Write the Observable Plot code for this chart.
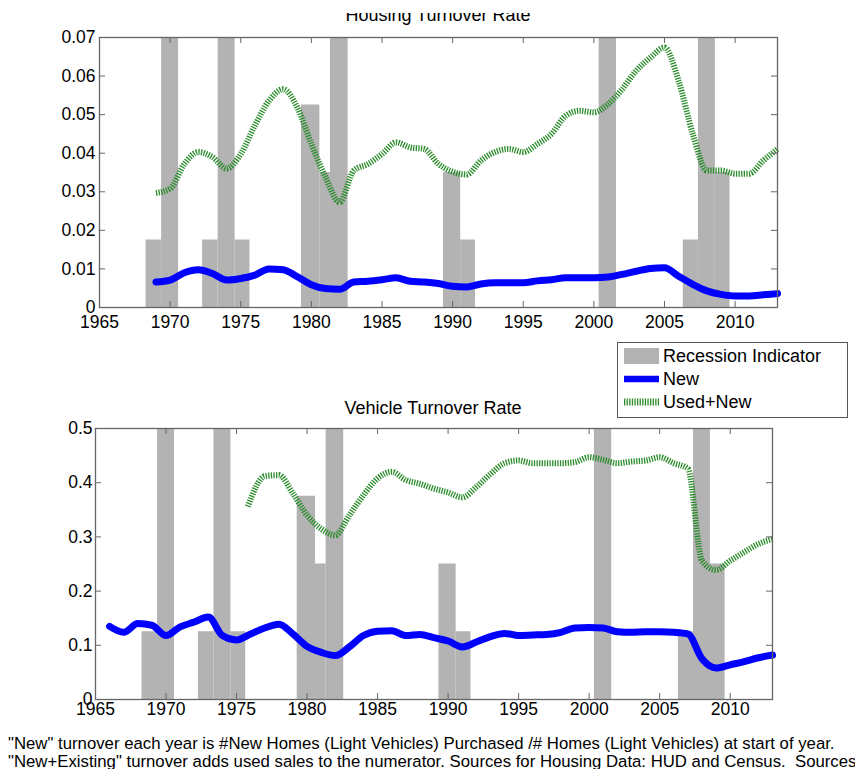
<!DOCTYPE html>
<html>
<head>
<meta charset="utf-8">
<script src="https://cdn.jsdelivr.net/npm/d3@7"></script>
<script src="https://cdn.jsdelivr.net/npm/@observablehq/plot@0.6"></script>
<style>
  html, body { margin: 0; padding: 0; background: #fff; }
  #root { position: relative; width: 855px; height: 769px; overflow: hidden; font-family: "Liberation Sans", Arial, sans-serif; color: #000; }
  .abs { position: absolute; }
  .title { font-size: 18px; text-align: center; white-space: nowrap; }
  .legend { border: 1px solid #555; background: #fff; font-size: 18px; }
  .legend .row { position: absolute; left: 6px; height: 20px; display: flex; align-items: center; }
  .legend .row span { margin-left: 4px; }
  .caption { font-family: "Liberation Sans", Arial, sans-serif; font-size: 16.75px; white-space: pre; line-height: 17.5px; }
</style>
</head>
<body>
<div id="root"></div>
<script>
// ---------- DATA ----------
// Recession indicator (fraction of year in recession), drawn as stepped bars
const recStart = [1968.3, 1969.4, 1972.3, 1973.4, 1974.6, 1979.3, 1980.6, 1981.35, 1989.35, 1990.57, 2000.37, 2006.33, 2007.4, 2008.6];
const recEnd   = [1969.4, 1970.6, 1973.4, 1974.6, 1975.65, 1980.6, 1981.35, 1982.6, 1990.57, 1991.62, 2001.6, 2007.4, 2008.6, 2009.64];
const recFrac  = [0.25, 1, 0.25, 1, 0.25, 0.75, 0.5, 1, 0.5, 0.25, 1, 0.25, 1, 0.5];

// Housing turnover
const housingYears = [1969,1970,1971,1972,1973,1974,1975,1976,1977,1978,1979,1980,1981,1982,1983,1984,1985,1986,1987,1988,1989,1990,1991,1992,1993,1994,1995,1996,1997,1998,1999,2000,2001,2002,2003,2004,2005,2006,2007,2008,2009,2010,2011,2012,2013];
const housingNew = [0.0066,0.0071,0.0090,0.0098,0.0088,0.0071,0.0075,0.0084,0.0100,0.0098,0.0080,0.0059,0.0049,0.0047,0.0066,0.0068,0.0072,0.0077,0.0068,0.0066,0.0062,0.0055,0.0053,0.0061,0.0064,0.0064,0.0064,0.0069,0.0072,0.0077,0.0077,0.0077,0.0079,0.0086,0.0094,0.0101,0.0103,0.0081,0.0060,0.0043,0.0034,0.0030,0.0030,0.0033,0.0036];
const housingUsedNew = [0.0297,0.0308,0.0372,0.0403,0.0390,0.0360,0.0398,0.0472,0.0536,0.0566,0.0519,0.0424,0.0338,0.0273,0.0355,0.0372,0.0398,0.0428,0.0415,0.0411,0.0372,0.0352,0.0345,0.0381,0.0403,0.0411,0.0403,0.0424,0.0450,0.0497,0.0510,0.0506,0.0527,0.0566,0.0614,0.0648,0.0674,0.0588,0.0450,0.0355,0.0355,0.0347,0.0347,0.0381,0.0411];

// Vehicle turnover
const vehicleYears = [1966,1967,1968,1969,1970,1971,1972,1973,1974,1975,1976,1977,1978,1979,1980,1981,1982,1983,1984,1985,1986,1987,1988,1989,1990,1991,1992,1993,1994,1995,1996,1997,1998,1999,2000,2001,2002,2003,2004,2005,2006,2007,2008,2009,2010,2011,2012,2013];
const vehicleNew = [0.135,0.124,0.140,0.137,0.118,0.134,0.143,0.152,0.118,0.110,0.121,0.132,0.139,0.121,0.098,0.087,0.081,0.097,0.118,0.126,0.127,0.118,0.120,0.114,0.108,0.097,0.106,0.116,0.122,0.118,0.119,0.120,0.124,0.132,0.133,0.132,0.125,0.124,0.125,0.125,0.124,0.121,0.075,0.058,0.064,0.070,0.077,0.082];
const vehicleUsedYears = [1975.8,1977,1978,1979,1980,1981,1982,1983,1984,1985,1986,1987,1988,1989,1990,1991,1992,1993,1994,1995,1996,1997,1998,1999,2000,2001,2002,2003,2004,2005,2006,2007,2008,2009,2010,2011,2012,2013];
const vehicleUsedNew = [0.356,0.412,0.414,0.380,0.340,0.315,0.303,0.340,0.377,0.408,0.420,0.405,0.398,0.389,0.382,0.373,0.392,0.416,0.436,0.441,0.436,0.436,0.436,0.438,0.447,0.442,0.436,0.439,0.441,0.447,0.436,0.426,0.256,0.239,0.256,0.272,0.287,0.296];

const xTicks = [1965,1970,1975,1980,1985,1990,1995,2000,2005,2010];
const housingYTicks = [0,0.01,0.02,0.03,0.04,0.05,0.06,0.07];
const vehicleYTicks = [0,0.1,0.2,0.3,0.4,0.5];

const titles = ["Housing Turnover Rate", "Vehicle Turnover Rate"];
const legendLabels = ["Recession Indicator", "New", "Used+New"];
const captionLines = [
  "\"New\" turnover each year is #New Homes (Light Vehicles) Purchased /# Homes (Light Vehicles) at start of year.",
  "\"New+Existing\" turnover adds used sales to the numerator. Sources for Housing Data: HUD and Census.  Sources"
];

// ---------- STYLE ----------
const BLUE = "#0000ff";
const GREEN = "#2a8c2a";
const GREY = "#b3b3b3";
const FRAME = "#666";
const DASH = "1.3,1.3";

const rec = recStart.map((s, i) => ({x1: s, x2: recEnd[i], frac: recFrac[i]}));
const zipLine = (xs, ys) => xs.map((x, i) => ({x, y: ys[i]}));

function chart({width, height, mL, mR, mT, mB, yMax, yTicks, yFmt, xPad, yPad, newData, usedData}) {
  const W = width - mL - mR, H = height - mT - mB;
  return Plot.plot({
    width, height,
    marginLeft: mL, marginRight: mR, marginTop: mT, marginBottom: mB,
    style: {fontFamily: "'Liberation Sans', Arial, sans-serif", fontSize: "17.5px", background: "transparent", overflow: "visible"},
    x: {domain: [1965, 2013], label: null},
    y: {domain: [0, yMax], label: null},
    marks: [
      Plot.rectY(rec, {x1: "x1", x2: "x2", y1: 0, y2: d => d.frac * yMax, fill: GREY}),
      Plot.line(usedData, {x: "x", y: "y", stroke: GREEN, strokeWidth: 6, strokeDasharray: DASH, strokeLinecap: "butt", curve: "monotone-x"}),
      Plot.line(newData, {x: "x", y: "y", stroke: BLUE, strokeWidth: 7, curve: "monotone-x"}),
      Plot.tickX(xTicks, {x: d => d, insetTop: H - 6, stroke: FRAME}),
      Plot.tickX(xTicks, {x: d => d, insetBottom: H - 6, stroke: FRAME}),
      Plot.tickY(yTicks, {y: d => d, insetRight: W - 6, stroke: FRAME}),
      Plot.tickY(yTicks, {y: d => d, insetLeft: W - 6, stroke: FRAME}),
      Plot.frame({stroke: FRAME, strokeWidth: 1.3}),
      Plot.axisX(xTicks, {tickSize: 0, tickPadding: xPad, tickFormat: d3.format("d"), fill: "#000", fontSize: 17.5}),
      Plot.axisY(yTicks, {tickSize: 0, tickPadding: yPad, tickFormat: yFmt, fill: "#000", fontSize: 17.5})
    ]
  });
}

const root = document.getElementById("root");

// Top chart: housing
const housingChart = chart({
  width: 855, height: 335, mL: 99, mR: 78, mT: 37, mB: 28, xPad: 8, yPad: 4,
  yMax: 0.07, yTicks: housingYTicks, yFmt: d => d === 0 ? "0" : d3.format(".2f")(d),
  newData: zipLine(housingYears, housingNew), usedData: zipLine(housingYears, housingUsedNew)
});
housingChart.classList.add("abs"); housingChart.style.left = "0px"; housingChart.style.top = "0px";
root.appendChild(housingChart);

// Bottom chart: vehicles
const vehicleChart = chart({
  width: 855, height: 330, mL: 95, mR: 83, mT: 28, mB: 31, xPad: 3, yPad: 3,
  yMax: 0.5, yTicks: vehicleYTicks, yFmt: d => d === 0 ? "0" : d3.format(".1f")(d),
  newData: zipLine(vehicleYears, vehicleNew), usedData: zipLine(vehicleUsedYears, vehicleUsedNew)
});
vehicleChart.classList.add("abs"); vehicleChart.style.left = "0px"; vehicleChart.style.top = "400px";
root.appendChild(vehicleChart);

// Make sure the dotted pattern is applied on the drawn paths
document.querySelectorAll("svg [stroke='" + GREEN + "'] path, svg path[stroke='" + GREEN + "']").forEach(p => {
  p.setAttribute("stroke-dasharray", DASH);
  p.setAttribute("stroke-linecap", "butt");
});

// Titles
const t1wrap = document.createElement("div");
t1wrap.className = "abs";
Object.assign(t1wrap.style, {left: "0px", top: "13px", width: "876px", height: "14px", overflow: "hidden"});
const t1 = document.createElement("div");
t1.className = "abs title";
Object.assign(t1.style, {left: "0px", top: "-8px", width: "876px", lineHeight: "20px"});
t1.textContent = titles[0];
t1wrap.appendChild(t1);
root.appendChild(t1wrap);

const t2 = document.createElement("div");
t2.className = "abs title";
Object.assign(t2.style, {left: "0px", top: "398px", width: "866px", lineHeight: "20px"});
t2.textContent = titles[1];
root.appendChild(t2);

// Legend
const leg = document.createElement("div");
leg.className = "abs legend";
Object.assign(leg.style, {left: "617px", top: "342px", width: "229px", height: "74px"});
const swatches = [
  `<svg width="35" height="18"><rect x="0" y="1" width="35" height="16" fill="${GREY}"/></svg>`,
  `<svg width="35" height="18"><line x1="0" x2="35" y1="9" y2="9" stroke="${BLUE}" stroke-width="6.5"/></svg>`,
  `<svg width="35" height="18"><line x1="0" x2="35" y1="9" y2="9" stroke="${GREEN}" stroke-width="7" stroke-dasharray="${DASH}"/></svg>`
];
legendLabels.forEach((lab, i) => {
  const r = document.createElement("div");
  r.className = "row";
  r.style.top = (3 + i * 23) + "px";
  r.innerHTML = swatches[i] + `<span>${lab}</span>`;
  leg.appendChild(r);
});
root.appendChild(leg);

// Caption
captionLines.forEach((line, i) => {
  const c = document.createElement("div");
  c.className = "abs caption";
  Object.assign(c.style, {left: "8px", top: (735 + i * 17.5) + "px"});
  c.textContent = line;
  root.appendChild(c);
});
</script>
</body>
</html>
